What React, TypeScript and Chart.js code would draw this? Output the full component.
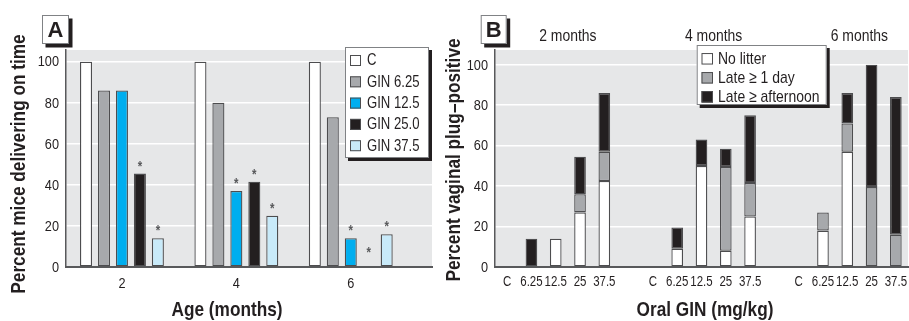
import React, { useEffect, useRef } from 'react';
import { Chart, registerables } from 'chart.js';

Chart.register(...registerables);

const FAMILY = "'Liberation Sans', Arial, Helvetica, sans-serif";
const SQUEEZE = 0.82;
const INK = '#231f20';
const EDGE = '#4d4d4f';
const AXIS = '#58595b';
const PANEL_BG = '#e6e7e8';

// ---------- Panel A data ----------
const ageMonths = [2, 4, 6];
const seriesNamesA = ['C', 'GIN 6.25', 'GIN 12.5', 'GIN 25.0', 'GIN 37.5'];
const pctC = [100, 100, 100];
const pctGin625 = [86, 80, 73];
const pctGin125 = [86, 37, 14];
const pctGin250 = [45.5, 41.5, 0];
const pctGin375 = [14, 25, 16];
const sigC = [false, false, false];
const sigGin625 = [false, false, false];
const sigGin125 = [false, true, true];
const sigGin250 = [true, true, true];
const sigGin375 = [true, true, true];
const colorsA = ['#ffffff', '#a7a9ac', '#00aeef', '#231f20', '#c8eaf9'];
const yTicksA = [0, 20, 40, 60, 80, 100];

// ---------- Panel B data ----------
const doseLabels = ['C', '6.25', '12.5', '25', '37.5'];
const monthTitles = ['2 months', '4 months', '6 months'];
const seriesNamesB = ['No litter', 'Late \u2265 1 day', 'Late \u2265 afternoon'];
const noLitter2 = [null, null, 14, 27, 42.5];
const lateDay2 = [null, null, null, 9, 14.5];
const lateAfternoon2 = [null, 14, null, 18.5, 29];
const noLitter4 = [null, 9, 50, 8, 25];
const lateDay4 = [null, null, null, 41.5, 16.5];
const lateAfternoon4 = [null, 10.5, 13, 9, 33.5];
const noLitter6 = [null, 18, 57, null, null];
const lateDay6 = [null, 9, 14, 39.5, 16];
const lateAfternoon6 = [null, null, 15, 60.5, 68];
const colorsB = ['#ffffff', '#a7a9ac', '#231f20'];
const yTicksB = [0, 20, 40, 60, 80, 100];

function joinGroups(groups: any[][], sep: any) {
  const out: any[] = [];
  groups.forEach((g, i) => {
    if (i > 0) out.push(sep);
    out.push(...g);
  });
  return out;
}

const labelsB = joinGroups([doseLabels, doseLabels, doseLabels], '');
const seriesB = [
  joinGroups([noLitter2, noLitter4, noLitter6], null),
  joinGroups([lateDay2, lateDay4, lateDay6], null),
  joinGroups([lateAfternoon2, lateAfternoon4, lateAfternoon6], null),
];

function boxWithShadow(ctx: CanvasRenderingContext2D, x: number, y: number, w: number, h: number, sh: number) {
  ctx.save();
  ctx.fillStyle = INK;
  ctx.fillRect(x + sh, y + sh, w, h);
  ctx.fillStyle = '#ffffff';
  ctx.fillRect(x, y, w, h);
  ctx.strokeStyle = '#808285';
  ctx.lineWidth = 1;
  ctx.strokeRect(x + 0.5, y + 0.5, w - 1, h - 1);
  ctx.restore();
}

// condensed text: a regular face squeezed horizontally
function textN(
  ctx: CanvasRenderingContext2D,
  s: string,
  x: number,
  y: number,
  size: number,
  bold = false,
  align: CanvasTextAlign = 'center',
  rot = 0,
  color = INK,
  baseline: CanvasTextBaseline = 'middle'
) {
  ctx.save();
  ctx.translate(x, y);
  if (rot) ctx.rotate(rot);
  ctx.scale(SQUEEZE, 1);
  ctx.font = `${bold ? 'bold ' : ''}${size}px ${FAMILY}`;
  ctx.fillStyle = color;
  ctx.textAlign = align;
  ctx.textBaseline = baseline;
  ctx.fillText(s, 0, 0);
  ctx.restore();
}

function panelLetter(ctx: CanvasRenderingContext2D, letter: string, x: number, y: number, w: number, h: number) {
  boxWithShadow(ctx, x, y, w, h, 3.5);
  ctx.save();
  ctx.font = `bold 22px ${FAMILY}`;
  ctx.fillStyle = INK;
  ctx.textAlign = 'center';
  ctx.textBaseline = 'middle';
  ctx.fillText(letter, x + w / 2, y + h / 2 + 1);
  ctx.restore();
}

function legend(chart: any, bx: number, by: number, bw: number, bh: number, sx: number, ss: number, row0: number, step: number, tx: number, fpx: number) {
  const ctx = chart.ctx as CanvasRenderingContext2D;
  boxWithShadow(ctx, bx, by, bw, bh, 3);
  chart.data.datasets.forEach((ds: any, i: number) => {
    const cy = row0 + i * step;
    ctx.save();
    ctx.fillStyle = ds.backgroundColor;
    ctx.fillRect(sx, cy - ss / 2, ss, ss);
    ctx.strokeStyle = EDGE;
    ctx.lineWidth = 1;
    ctx.strokeRect(sx + 0.5, cy - ss / 2 + 0.5, ss - 1, ss - 1);
    ctx.restore();
    textN(ctx, ds.label, tx, cy + 0.5, fpx, false, 'left');
  });
}

function tickLabels(chart: any, xSize: number, xOffset: number, ySize: number, xLabel: (v: number) => string) {
  const ctx = chart.ctx as CanvasRenderingContext2D;
  const area = chart.chartArea;
  const xs = chart.scales.x;
  const ys = chart.scales.y;
  ys.ticks.forEach((t: any, i: number) => {
    textN(ctx, String(t.value), area.left - 7, ys.getPixelForTick(i) + 0.5, ySize, false, 'right');
  });
  xs.ticks.forEach((t: any, i: number) => {
    textN(ctx, xLabel(t.value), xs.getPixelForTick(i), area.bottom + xOffset, xSize, false, 'center');
  });
}

const bgPlugin = {
  id: 'panelBg',
  beforeDraw(chart: any) {
    const { left, top, right, bottom } = chart.chartArea;
    const ctx = chart.ctx;
    ctx.save();
    ctx.fillStyle = PANEL_BG;
    ctx.fillRect(left, top, right - left, bottom - top);
    ctx.restore();
  },
};

const sigA = [sigC, sigGin625, sigGin125, sigGin250, sigGin375];

const overlayA = {
  id: 'overlayA',
  afterDatasetsDraw(chart: any) {
    const ctx = chart.ctx;
    chart.data.datasets.forEach((_: any, i: number) => {
      const meta = chart.getDatasetMeta(i);
      meta.data.forEach((el: any, j: number) => {
        if (!sigA[i][j]) return;
        const cy = Math.min(el.y - 10.5, el.base - 17.5);
        textN(ctx, '*', el.x, cy + 7.5, 14, true, 'center', 0, AXIS, 'alphabetic');
      });
    });
  },
  afterDraw(chart: any) {
    const ctx = chart.ctx;
    tickLabels(chart, 15.5, 16.5, 15.5, (v) => String(v));
    textN(ctx, 'Percent mice delivering on time', 19.5, 164, 21, true, 'center', -Math.PI / 2);
    textN(ctx, 'Age (months)', 227, 310, 21, true);
    panelLetter(ctx, 'A', 42, 15, 27, 29);
    legend(chart, 345, 47, 84, 111, 350, 11, 60.5, 21.3, 367, 16);
  },
};

const overlayB = {
  id: 'overlayB',
  afterDraw(chart: any) {
    const ctx = chart.ctx;
    const xs = chart.scales.x;
    tickLabels(chart, 14, 15.3, 15.5, (v) => chart.data.labels[v]);
    monthTitles.forEach((t, g) => {
      const first = xs.getPixelForValue(g * 6 + 1);
      const last = xs.getPixelForValue(g * 6 + 4);
      textN(ctx, t, (first + last) / 2, 36.7, 17, false, 'center');
    });
    textN(ctx, 'Percent vaginal plug\u2013positive', 16, 160, 21, true, 'center', -Math.PI / 2);
    textN(ctx, 'Oral GIN (mg/kg)', 267, 310, 21, true);
    panelLetter(ctx, 'B', 42.7, 15, 26, 29);
    legend(chart, 258.7, 45, 130, 60, 263.5, 11.5, 58.8, 19, 280, 17);
  },
};

function ChartA() {
  const ref = useRef<HTMLCanvasElement | null>(null);
  useEffect(() => {
    const values = [pctC, pctGin625, pctGin125, pctGin250, pctGin375];
    const chart = new Chart(ref.current as HTMLCanvasElement, {
      type: 'bar',
      data: {
        labels: ageMonths,
        datasets: values.map((v, i) => ({
          label: seriesNamesA[i],
          data: v,
          backgroundColor: colorsA[i],
          borderColor: EDGE,
          borderWidth: 1.3,
          borderSkipped: false,
          categoryPercentage: 0.785,
          barPercentage: 0.67,
        })),
      },
      options: {
        animation: false,
        responsive: false,
        maintainAspectRatio: false,
        layout: { padding: { top: 50, right: 6, left: 0, bottom: 0 } },
        plugins: { legend: { display: false }, tooltip: { enabled: false } },
        scales: {
          x: {
            type: 'linear',
            min: 1.022,
            max: 7.42,
            offset: false,
            grid: { display: false, drawTicks: false },
            border: { display: true, color: AXIS, width: 2 },
            afterBuildTicks: (s: any) => {
              s.ticks = ageMonths.map((v) => ({ value: v }));
            },
            afterFit: (s: any) => {
              s.height = 54;
            },
            ticks: { display: false },
          },
          y: {
            min: 0,
            max: 105.7,
            afterBuildTicks: (s: any) => {
              s.ticks = yTicksA.map((v) => ({ value: v }));
            },
            afterFit: (s: any) => {
              s.width = 66;
            },
            grid: {
              drawTicks: false,
              lineWidth: 1.5,
              color: (c: any) => (c.tick && c.tick.value === 0 ? 'rgba(0,0,0,0)' : '#ffffff'),
            },
            border: { display: true, color: AXIS, width: 1.5 },
            ticks: { display: false },
          },
        },
      },
      plugins: [bgPlugin, overlayA],
    } as any);
    return () => chart.destroy();
  }, []);
  return (
    <canvas
      ref={ref}
      width={438}
      height={321}
      style={{ position: 'absolute', left: 0, top: 0, width: 438, height: 321 }}
    />
  );
}

function ChartB() {
  const ref = useRef<HTMLCanvasElement | null>(null);
  useEffect(() => {
    const chart = new Chart(ref.current as HTMLCanvasElement, {
      type: 'bar',
      data: {
        labels: labelsB,
        datasets: seriesB.map((v, i) => ({
          label: seriesNamesB[i],
          data: v,
          backgroundColor: colorsB[i],
          borderColor: EDGE,
          borderWidth: 1.3,
          borderSkipped: false,
          categoryPercentage: 1,
          barPercentage: 0.48,
        })),
      },
      options: {
        animation: false,
        responsive: false,
        maintainAspectRatio: false,
        layout: { padding: { top: 50, right: 1, left: 0, bottom: 0 } },
        plugins: { legend: { display: false }, tooltip: { enabled: false } },
        scales: {
          x: {
            stacked: true,
            offset: true,
            grid: { display: false, drawTicks: false },
            border: { display: true, color: AXIS, width: 2 },
            afterFit: (s: any) => {
              s.height = 54;
            },
            ticks: { display: false, autoSkip: false },
          },
          y: {
            stacked: true,
            min: 0,
            max: 107.3,
            afterBuildTicks: (s: any) => {
              s.ticks = yTicksB.map((v) => ({ value: v }));
            },
            afterFit: (s: any) => {
              s.width = 57;
            },
            grid: {
              drawTicks: false,
              lineWidth: 1.5,
              color: (c: any) => (c.tick && c.tick.value === 0 ? 'rgba(0,0,0,0)' : '#ffffff'),
            },
            border: { display: true, color: AXIS, width: 1.5 },
            ticks: { display: false },
          },
        },
      },
      plugins: [bgPlugin, overlayB],
    } as any);
    return () => chart.destroy();
  }, []);
  return (
    <canvas
      ref={ref}
      width={471}
      height={321}
      style={{ position: 'absolute', left: 438, top: 0, width: 471, height: 321 }}
    />
  );
}

export default function App() {
  return (
    <div style={{ position: 'absolute', left: 0, top: 0, width: 909, height: 321, background: '#ffffff' }}>
      <ChartA />
      <ChartB />
    </div>
  );
}
